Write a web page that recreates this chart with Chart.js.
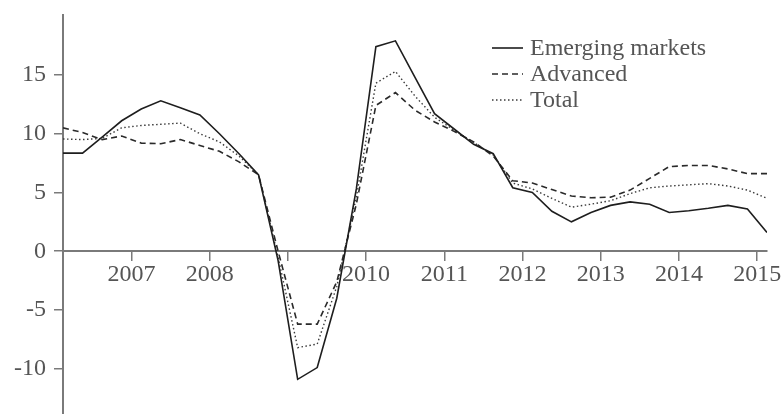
<!DOCTYPE html>
<html>
<head>
<meta charset="utf-8">
<script src="https://cdn.jsdelivr.net/npm/chart.js@4.4.1/dist/chart.umd.min.js"></script>
<style>
  html, body { margin: 0; padding: 0; background: #fff; }
  #wrap { width: 782px; height: 414px; position: relative; }
</style>
</head>
<body>
<div id="wrap"><canvas id="growth"></canvas></div>
<script>
// quarterly observations, 2006Q1 .. 2015Q1
var quarters = [
  "2006Q1","2006Q2","2006Q3","2006Q4",
  "2007Q1","2007Q2","2007Q3","2007Q4",
  "2008Q1","2008Q2","2008Q3","2008Q4",
  "2009Q1","2009Q2","2009Q3","2009Q4",
  "2010Q1","2010Q2","2010Q3","2010Q4",
  "2011Q1","2011Q2","2011Q3","2011Q4",
  "2012Q1","2012Q2","2012Q3","2012Q4",
  "2013Q1","2013Q2","2013Q3","2013Q4",
  "2014Q1","2014Q2","2014Q3","2014Q4",
  "2015Q1"
];
var emerging = [8.35, 8.35, 9.7, 11.1, 12.1, 12.8, 12.2, 11.6, 10.0, 8.3, 6.5, -0.8, -10.9, -9.9, -4.0, 5.3,
  17.4, 17.9, 14.8, 11.7, 10.4, 9.1, 8.3, 5.4, 5.0, 3.4, 2.5, 3.3, 3.9, 4.2, 4.0, 3.3, 3.45, 3.65, 3.9, 3.6, 1.6];
var advanced = [10.5, 10.1, 9.5, 9.8, 9.2, 9.15, 9.5, 9.0, 8.5, 7.6, 6.5, 0.0, -6.2, -6.2, -2.6, 4.0,
  12.4, 13.5, 12.0, 11.0, 10.2, 9.3, 8.1, 6.0, 5.8, 5.25, 4.7, 4.55, 4.6, 5.2, 6.2, 7.2, 7.3, 7.3, 7.0, 6.6, 6.6];
var total = [9.55, 9.5, 9.6, 10.5, 10.7, 10.8, 10.9, 10.0, 9.3, 8.1, 6.5, -0.5, -8.2, -7.9, -3.0, 4.6,
  14.3, 15.3, 13.2, 11.4, 10.3, 9.25, 8.2, 5.8, 5.3, 4.5, 3.75, 4.0, 4.3, 4.9, 5.4, 5.55, 5.65, 5.75, 5.55, 5.2, 4.5];

var yearTicks = [2007, 2008, 2009, 2010, 2011, 2012, 2013, 2014, 2015];
var hiddenYears = [2009];
var valueTicks = [-10, -5, 0, 5, 10, 15];

var fontFamily = "'Liberation Serif', 'Times New Roman', serif";
var textColor = "#555";
var axisColor = "#7a7a7a";

// each quarter is plotted at its middle (Q1 -> year + 0.125)
function quarterPos(label) {
  var y = parseInt(label.substring(0, 4), 10);
  var q = parseInt(label.substring(5), 10);
  return y + (q - 0.5) / 4;
}

function toPoints(values) {
  var pts = [];
  for (var i = 0; i < values.length; i++) {
    pts.push({ x: quarterPos(quarters[i]), y: values[i] });
  }
  return pts;
}

// legend drawn inside the plot, top right
var insideLegend = {
  id: "insideLegend",
  afterDraw: function(chart) {
    var ctx = chart.ctx;
    var x0 = 492, lineLen = 31, textX = 530, y0 = 48, step = 26;
    ctx.save();
    ctx.font = "24px " + fontFamily;
    ctx.textBaseline = "middle";
    ctx.textAlign = "left";
    chart.data.datasets.forEach(function(ds, i) {
      var y = y0 + i * step;
      ctx.beginPath();
      ctx.setLineDash(ds.borderDash || []);
      ctx.strokeStyle = ds.borderColor;
      ctx.lineWidth = ds.borderWidth;
      ctx.moveTo(x0, y);
      ctx.lineTo(x0 + lineLen, y);
      ctx.stroke();
      ctx.setLineDash([]);
      ctx.fillStyle = textColor;
      ctx.fillText(ds.label, textX, y + 1);
    });
    ctx.restore();
  }
};

// no extra room around the plot for half-labels at the scale ends
function noEndPadding(scale) {
  scale.paddingTop = 0;
  scale.paddingBottom = 0;
  scale.paddingLeft = 0;
  scale.paddingRight = 0;
}

var ctx = document.getElementById("growth");
var chart = new Chart(ctx, {
  type: "line",
  data: {
    datasets: [
      { label: "Emerging markets", data: toPoints(emerging), borderColor: "#1e1e1e", borderWidth: 1.6, borderDash: [] },
      { label: "Advanced", data: toPoints(advanced), borderColor: "#2a2a2a", borderWidth: 1.6, borderDash: [6, 4] },
      { label: "Total", data: toPoints(total), borderColor: "#3a3a3a", borderWidth: 1.4, borderDash: [1.5, 2.5] }
    ]
  },
  options: {
    responsive: true,
    maintainAspectRatio: false,
    animation: false,
    layout: { padding: { top: 15, right: 15, bottom: 0, left: 0 } },
    elements: { point: { radius: 0 }, line: { tension: 0 } },
    plugins: {
      legend: { display: false },
      tooltip: { enabled: false }
    },
    scales: {
      x: {
        type: "linear",
        position: { y: 0 },
        min: quarterPos(quarters[0]),
        max: quarterPos(quarters[quarters.length - 1]),
        afterBuildTicks: function(scale) {
          scale.ticks = yearTicks.map(function(v) { return { value: v }; });
        },
        // the axis sits inside the plot at y = 0, so it takes no room below
        afterFit: function(scale) { scale.height = 0; noEndPadding(scale); },
        grid: { display: true, drawOnChartArea: false, drawTicks: true, tickLength: 9, color: axisColor, lineWidth: 1.5 },
        border: { display: true, color: axisColor, width: 2 },
        ticks: {
          autoSkip: false,
          maxRotation: 0,
          padding: 0,
          color: textColor,
          font: { family: fontFamily, size: 24 },
          callback: function(value) {
            return hiddenYears.indexOf(value) >= 0 ? "" : String(value);
          }
        }
      },
      y: {
        type: "linear",
        position: "left",
        min: -13.85,
        max: 20.1,
        afterBuildTicks: function(scale) {
          scale.ticks = valueTicks.map(function(v) { return { value: v }; });
        },
        afterFit: function(scale) { scale.width = 63; noEndPadding(scale); },
        grid: { display: true, drawOnChartArea: false, drawTicks: true, tickLength: 9, color: axisColor, lineWidth: 1.5 },
        border: { display: true, color: axisColor, width: 2 },
        ticks: {
          padding: 8,
          color: textColor,
          font: { family: fontFamily, size: 24 }
        }
      }
    }
  },
  plugins: [insideLegend]
});
</script>
</body>
</html>
